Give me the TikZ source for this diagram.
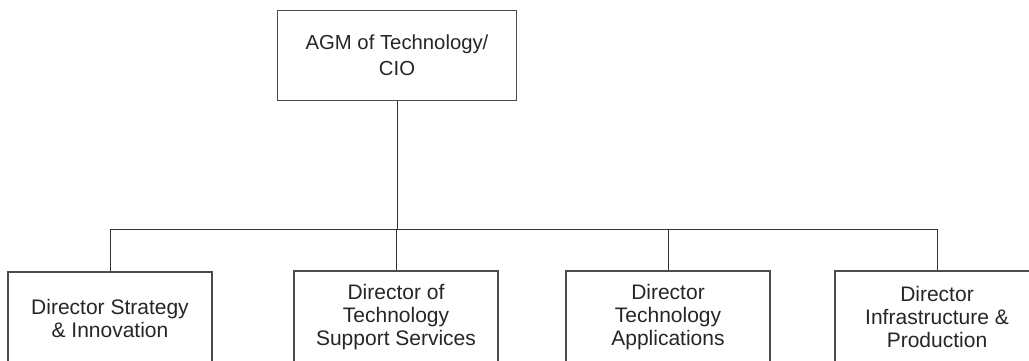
\documentclass[tikz,border=0pt]{standalone}
\usepackage{fontspec}
\setmainfont{Liberation Sans}
\begin{document}
\begin{tikzpicture}[x=1pt,y=-1pt,
  orgbox/.style={draw=black!70, line width=1.5pt, fill=white, minimum width=204pt,
    align=center, inner sep=0pt, text=black!85, font=\fontsize{21}{23}\selectfont},
  topbox/.style={orgbox, minimum width=239pt, minimum height=90pt,
    font=\fontsize{20.3}{26}\selectfont},
  childbox/.style={orgbox, minimum height=92pt},
  link/.style={draw=black!80, line width=0.9pt}]
  \useasboundingbox (0,0) rectangle (1029,360);
  \clip (0,0) rectangle (1029,360);

  % head of the organisation
  \node[topbox] (cio) at (397,55.5) {AGM of Technology/\\CIO};

  % the four directors
  \node[childbox] (strat) at (110,318) {Director Strategy\\\& Innovation};
  \node[childbox] (supp)  at (396,317) {Director of\\Technology\\Support Services};
  \node[childbox] (apps)  at (668,317) {Director\\Technology\\Applications};
  \node[childbox] (infra) at (937,317) {Director\\Infrastructure \&\\Production};

  % reporting lines through a common bus
  \coordinate (bus) at (397,229);
  \foreach \d in {strat,supp,apps,infra}
    \draw[link] (cio.south) -- (bus) -| (\d.north);
\end{tikzpicture}
\end{document}
